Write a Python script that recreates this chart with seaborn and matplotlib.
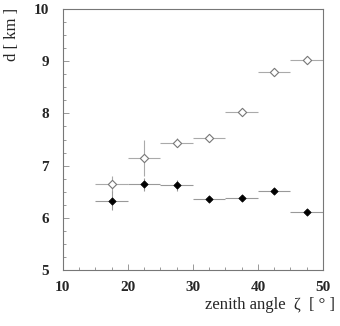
import numpy as np
import pandas as pd
import matplotlib
matplotlib.use("Agg")
import matplotlib.pyplot as plt
import seaborn as sns

zenith = [17.5, 22.5, 27.5, 32.5, 37.5, 42.5, 47.5]
d_open = [6.65, 7.15, 7.44, 7.53, 8.02, 8.80, 9.02]
d_open_err = [0.15, 0.35, 0.08, 0.03, 0.05, 0.08, 0.03]
d_filled = [6.33, 6.64, 6.62, 6.36, 6.38, 6.51, 6.12]
d_filled_err = [0.18, 0.12, 0.10, 0.03, 0.06, 0.03, 0.03]
bin_half = [2.5] * 7

sns.set_style("ticks")
plt.rcParams['font.family'] = ['Liberation Serif', 'DejaVu Serif']

fig = plt.figure(figsize=(3.4, 3.26), dpi=100)
ax = fig.add_axes([0.185, 0.172, 0.765, 0.8])

df = pd.DataFrame({"zenith": zenith * 2,
                   "d": d_open + d_filled,
                   "kind": ["open"] * 7 + ["filled"] * 7})

ax.errorbar(zenith, d_open, xerr=bin_half, yerr=d_open_err, fmt='none',
            ecolor='#aaaaaa', elinewidth=0.8, capsize=0, zorder=1)
ax.errorbar(zenith, d_filled, xerr=bin_half, yerr=d_filled_err, fmt='none',
            ecolor='#999999', elinewidth=0.8, capsize=0, zorder=1)

sns.scatterplot(data=df[df.kind == "open"], x="zenith", y="d", ax=ax,
                marker='D', s=18, facecolor='white', edgecolor='#777777',
                linewidth=0.8, zorder=3, legend=False)
sns.scatterplot(data=df[df.kind == "filled"], x="zenith", y="d", ax=ax,
                marker='D', s=14, color='black', edgecolor='black',
                linewidth=0.5, zorder=3, legend=False)

ax.set_xlim(10, 50)
ax.set_ylim(5, 10)
ax.set_xticks([10, 20, 30, 40, 50])
ax.set_yticks([5, 6, 7, 8, 9, 10])
ax.set_xticks(np.arange(10, 51, 2.5), minor=True)
ax.set_yticks(np.arange(5, 10.01, 0.25), minor=True)
ax.tick_params(which='both', direction='in', color='#888888', width=0.6)
ax.tick_params(which='major', length=4)
ax.tick_params(which='minor', length=2)
ax.tick_params(axis='x', pad=8)
ax.tick_params(axis='y', pad=10)
for lab in ax.get_xticklabels() + ax.get_yticklabels():
    lab.set_fontweight('bold')
    lab.set_fontsize(11)
for sp in ax.spines.values():
    sp.set_visible(True)
    sp.set_color('#777777')
    sp.set_linewidth(0.8)

ax.set_xlabel("")
ax.set_ylabel("")
fig.text(0.985, 0.065, "zenith angle  ζ  [ ° ]", ha='right', va='center', fontsize=12)
fig.text(0.035, 0.975, "d [ km ]", ha='center', va='top', rotation=90, fontsize=12)

fig.savefig("out.png", dpi=100)
